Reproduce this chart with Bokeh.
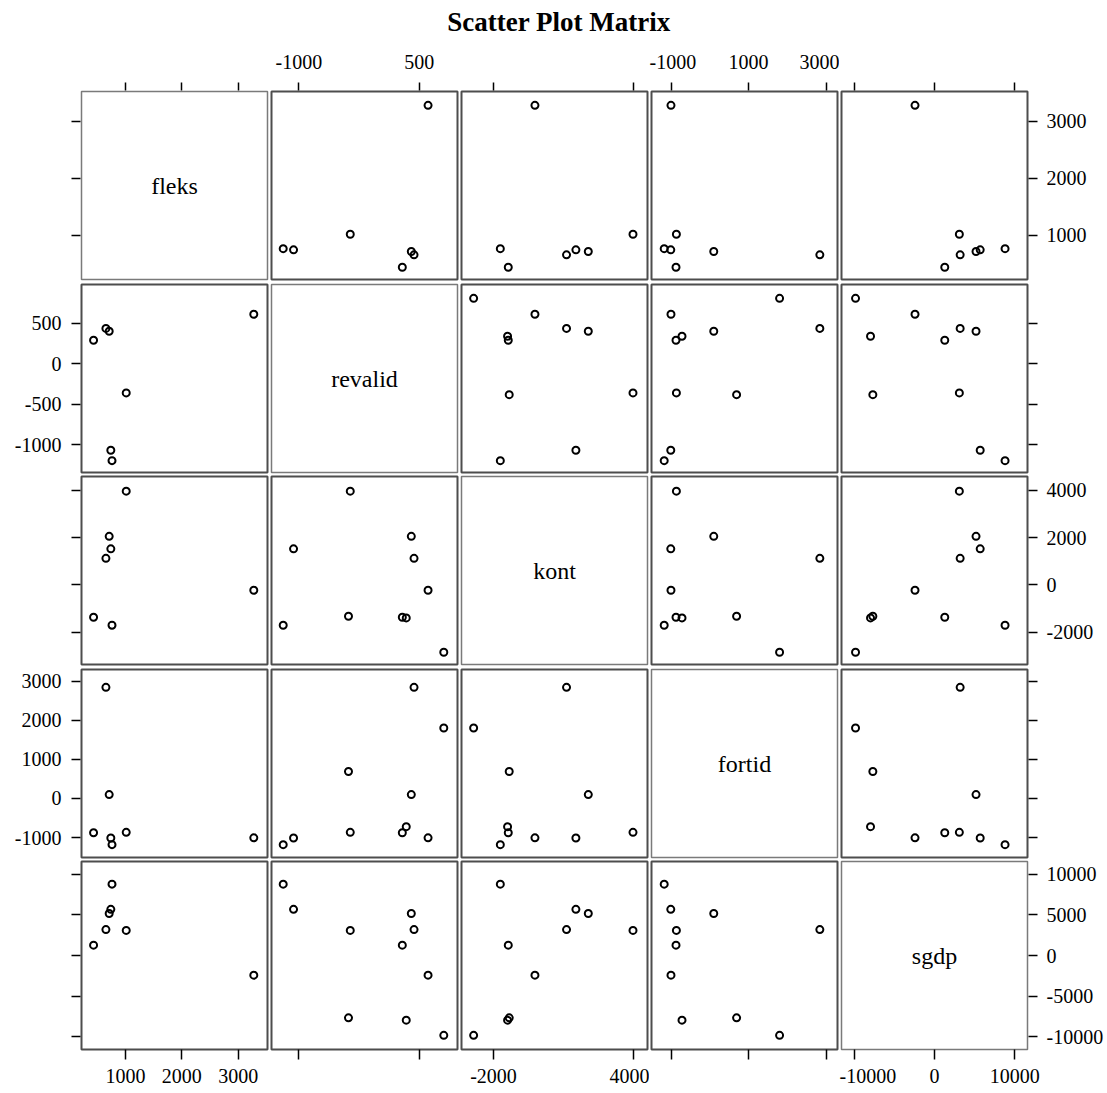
import math
from bokeh.plotting import figure
from bokeh.models import Range1d, LinearAxis, FixedTicker, Label, ColumnDataSource
from bokeh.layouts import column, row
from bokeh.embed import file_html
from bokeh.resources import INLINE

nan = float("nan")

# ---- data (10 observations; fleks missing for three) ----
var_names = ["fleks", "revalid", "kont", "fortid", "sgdp"]
fleks   = [nan, 3277, 655, 713, nan, 436, nan, 1015, 742, 763]
revalid = [807, 611, 436, 402, 339, 290, -381, -359, -1066, -1195]
kont    = [-2850, -230, 1120, 2050, -1400, -1370, -1330, 3960, 1520, -1710]
fortid  = [1800, -1005, 2840, 100, -720, -875, 690, -865, -1010, -1180]
sgdp    = [-9850, -2430, 3200, 5180, -7980, 1280, -7690, 3100, 5700, 8800]

# panel limits per variable
lim_fleks   = (222, 3520)
lim_revalid = (-1341, 978)
lim_kont    = (-3369, 4580)
lim_fortid  = (-1508, 3296)
lim_sgdp    = (-11600, 11600)

# tick values: horizontal axes / vertical axes
xticks_fleks   = [1000, 2000, 3000]
xticks_revalid = [-1000, 500]
xticks_kont    = [-2000, 4000]
xticks_fortid  = [-1000, 1000, 3000]
xticks_sgdp    = [-10000, 0, 10000]
yticks_fleks   = [1000, 2000, 3000]
yticks_revalid = [-1000, -500, 0, 500]
yticks_kont    = [-2000, 0, 2000, 4000]
yticks_fortid  = [-1000, 0, 1000, 2000, 3000]
yticks_sgdp    = [-10000, -5000, 0, 5000, 10000]

title_text = "Scatter Plot Matrix"

source = ColumnDataSource(dict(fleks=fleks, revalid=revalid, kont=kont,
                               fortid=fortid, sgdp=sgdp))
limits = [lim_fleks, lim_revalid, lim_kont, lim_fortid, lim_sgdp]
xticks = [xticks_fleks, xticks_revalid, xticks_kont, xticks_fortid, xticks_sgdp]
yticks = [yticks_fleks, yticks_revalid, yticks_kont, yticks_fortid, yticks_sgdp]

FONT = "Liberation Serif"
FW, FH = 186, 188
col_borders = [(81, 2), (2, 2), (2, 2), (2, 2), (2, 80)]
row_borders = [(54, 2), (3, 2), (2, 2), (3, 2), (2, 44)]


def make_axis(ticks, show, tin, tout, standoff):
    ax = LinearAxis(ticker=FixedTicker(ticks=ticks, minor_ticks=[]))
    ax.axis_line_color = None
    ax.major_tick_in = tin
    ax.major_tick_out = tout
    ax.major_tick_line_color = "black"
    ax.major_tick_line_width = 1.5
    ax.minor_tick_line_color = None
    ax.major_label_standoff = standoff
    ax.major_label_text_font = FONT
    ax.major_label_text_font_size = "20px"
    ax.major_label_overrides = {t: str(t) for t in ticks}
    ax.major_label_text_color = "black" if show else None
    return ax


rows = []
# title strip
tp = figure(width=1107, height=37, x_range=Range1d(0, 1), y_range=Range1d(0, 1),
            output_backend="svg", toolbar_location=None,
            x_axis_location=None, y_axis_location=None, min_border=0)
tp.outline_line_color = None
tp.grid.grid_line_color = None
tp.add_layout(Label(x=0.5, y=0.5, text=title_text, text_align="center",
                    text_baseline="middle", text_font=FONT, text_color="black",
                    text_font_size="27px", text_font_style="bold",
                    x_offset=5, y_offset=-3))
rows.append(tp)

for i in range(5):
    figs = []
    for j in range(5):
        bl, br = col_borders[j]
        bt, bb = row_borders[i]
        p = figure(width=FW + bl + br, height=FH + bt + bb,
                   x_range=Range1d(*limits[j]), y_range=Range1d(*limits[i]),
                   output_backend="svg", toolbar_location=None,
                   x_axis_location=None, y_axis_location=None,
                   min_border_left=bl, min_border_right=br,
                   min_border_top=bt, min_border_bottom=bb)
        p.grid.grid_line_color = None
        p.background_fill_color = "white"
        p.border_fill_color = "white"
        if i == j:
            p.outline_line_color = "#7a7a7a"
            p.outline_line_width = 1.5
            mx = (limits[j][0] + limits[j][1]) / 2
            my = (limits[i][0] + limits[i][1]) / 2
            p.add_layout(Label(x=mx, y=my, text=var_names[i], text_align="center",
                               text_baseline="middle", text_font=FONT,
                               text_color="black", text_font_size="24px"))
        else:
            p.outline_line_color = "#4d4d4d"
            p.outline_line_width = 2
            p.scatter(x=var_names[j], y=var_names[i], source=source, marker="circle",
                      size=7, fill_color=None, line_color="black", line_width=2)
        if i == 0:
            p.add_layout(make_axis(xticks[j], j % 2 == 1, -1, 9, 14), "above")
        if i == 4:
            p.add_layout(make_axis(xticks[j], j % 2 == 0, 0, 10, 9), "below")
        if j == 0:
            p.add_layout(make_axis(yticks[i], i % 2 == 1, -1, 10, 10), "left")
        if j == 4:
            p.add_layout(make_axis(yticks[i], i % 2 == 0, -1, 10, 9), "right")
        figs.append(p)
    rows.append(row(*figs))

layout = column(*rows)
open("out.html", "w").write(file_html(layout, INLINE))
